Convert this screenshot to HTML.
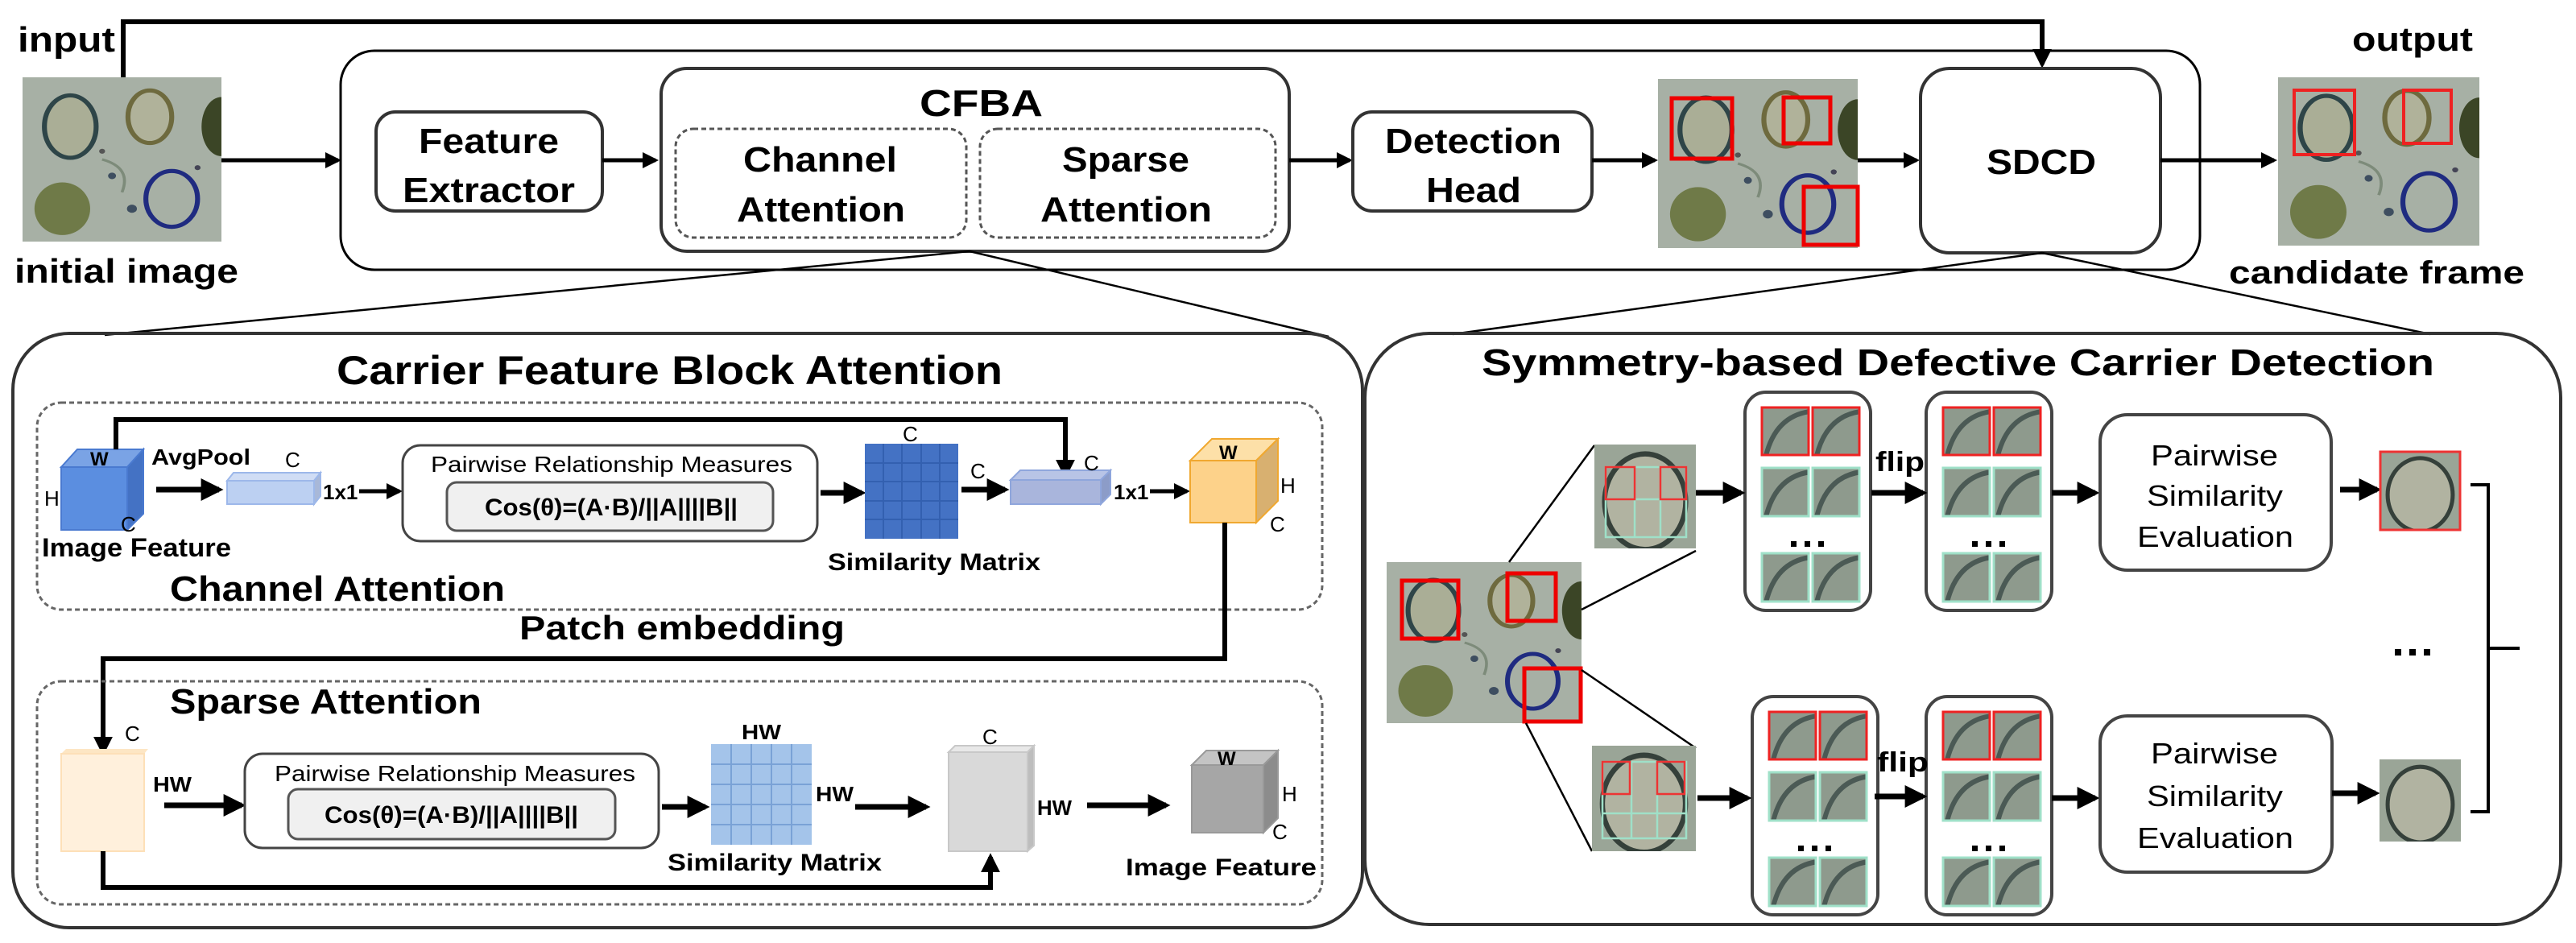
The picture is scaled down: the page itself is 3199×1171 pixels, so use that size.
<!DOCTYPE html>
<html><head><meta charset="utf-8"><style>
html,body{margin:0;padding:0;background:#fff;}
svg{display:block;}
text{font-family:"Liberation Sans",Arial,sans-serif;fill:#000;}
.b{font-weight:bold;}
</style></head><body>
<svg width="3199" height="1171" viewBox="0 0 3199 1171" xmlns="http://www.w3.org/2000/svg">
<defs>
<marker id="ah" markerWidth="4" markerHeight="4" refX="3.2" refY="2" orient="auto" markerUnits="strokeWidth"><path d="M0,0 L4,2 L0,4 z" fill="#000"/></marker>
<marker id="ah2" markerWidth="5" markerHeight="5" refX="4" refY="2.5" orient="auto" markerUnits="strokeWidth"><path d="M0,0 L5,2.5 L0,5 L1,2.5 z" fill="#000"/></marker>
<symbol id="mic" viewBox="0 0 100 100" preserveAspectRatio="none">
<rect width="100" height="100" fill="#9ea99e"/>
<rect width="100" height="100" fill="#b4bbb0" opacity="0.4"/>
<ellipse cx="100" cy="30" rx="10" ry="18" fill="#3b4526"/>
<ellipse cx="24" cy="30" rx="13" ry="19" fill="#aaae96" stroke="#2e4548" stroke-width="2.5"/>
<ellipse cx="64" cy="24" rx="11" ry="16" fill="#b0b29a" stroke="#6e6a3e" stroke-width="2.5"/>
<ellipse cx="20" cy="80" rx="14" ry="16" fill="#6f7a48"/>
<ellipse cx="75" cy="74" rx="13" ry="17" fill="none" stroke="#1f2b80" stroke-width="2.5"/>
<circle cx="45" cy="60" r="2" fill="#3e4e60"/><circle cx="55" cy="80" r="2.5" fill="#3e4e60"/><circle cx="40" cy="45" r="1.5" fill="#555"/><circle cx="88" cy="55" r="1.5" fill="#445"/>
<path d="M40 50 Q55 55 50 70" stroke="#7d8b7a" fill="none" stroke-width="1.5"/>
</symbol>
<symbol id="crop" viewBox="0 0 100 100" preserveAspectRatio="none">
<rect width="100" height="100" fill="#9aa597"/>
<ellipse cx="50" cy="55" rx="40" ry="46" fill="#b1b3a1" stroke="#35403a" stroke-width="5"/>
</symbol>
<symbol id="patch" viewBox="0 0 100 100" preserveAspectRatio="none">
<rect width="100" height="100" fill="#8e9a8d"/>
<path d="M10 100 Q30 20 100 10" stroke="#4b5a55" stroke-width="10" fill="none"/>
</symbol>
</defs>

<!-- top line from input to SDCD -->
<polyline points="153,96 153,27 2536,27 2536,80" fill="none" stroke="#000" stroke-width="6" marker-end="url(#ah)"/>
<text x="22" y="64" class="b" font-size="44" textLength="121" lengthAdjust="spacingAndGlyphs">input</text>
<use href="#mic" x="28" y="96" width="247" height="204"/>
<text x="18" y="351" class="b" font-size="42" textLength="278" lengthAdjust="spacingAndGlyphs">initial image</text>

<!-- big top box -->
<rect x="423" y="63" width="2309" height="272" rx="42" fill="none" stroke="#000" stroke-width="3"/>
<line x1="275" y1="199" x2="420" y2="199" stroke="#000" stroke-width="5" marker-end="url(#ah)"/>
<rect x="467" y="139" width="281" height="123" rx="24" fill="#fff" stroke="#333" stroke-width="4"/>
<text x="520" y="190" class="b" font-size="44" textLength="174" lengthAdjust="spacingAndGlyphs">Feature</text>
<text x="500" y="251" class="b" font-size="44" textLength="214" lengthAdjust="spacingAndGlyphs">Extractor</text>
<line x1="748" y1="199" x2="814" y2="199" stroke="#000" stroke-width="5" marker-end="url(#ah)"/>
<rect x="821" y="85" width="780" height="227" rx="32" fill="#fff" stroke="#333" stroke-width="4"/>
<text x="1142" y="144" class="b" font-size="46" textLength="153" lengthAdjust="spacingAndGlyphs">CFBA</text>
<rect x="839" y="160" width="361" height="135" rx="22" fill="none" stroke="#555" stroke-width="3" stroke-dasharray="6,4"/>
<rect x="1217" y="160" width="367" height="135" rx="22" fill="none" stroke="#555" stroke-width="3" stroke-dasharray="6,4"/>
<text x="923" y="213" class="b" font-size="44" textLength="191" lengthAdjust="spacingAndGlyphs">Channel</text>
<text x="915" y="275" class="b" font-size="44" textLength="209" lengthAdjust="spacingAndGlyphs">Attention</text>
<text x="1319" y="213" class="b" font-size="44" textLength="158" lengthAdjust="spacingAndGlyphs">Sparse</text>
<text x="1292" y="275" class="b" font-size="44" textLength="213" lengthAdjust="spacingAndGlyphs">Attention</text>
<line x1="1601" y1="199" x2="1676" y2="199" stroke="#000" stroke-width="5" marker-end="url(#ah)"/>
<rect x="1680" y="139" width="297" height="123" rx="24" fill="#fff" stroke="#333" stroke-width="4"/>
<text x="1720" y="190" class="b" font-size="44" textLength="219" lengthAdjust="spacingAndGlyphs">Detection</text>
<text x="1771" y="251" class="b" font-size="44" textLength="118" lengthAdjust="spacingAndGlyphs">Head</text>
<line x1="1977" y1="199" x2="2055" y2="199" stroke="#000" stroke-width="5" marker-end="url(#ah)"/>
<use href="#mic" x="2059" y="98" width="248" height="210"/>
<g fill="none" stroke="#e00" stroke-width="5">
<rect x="2076" y="122" width="75" height="75"/><rect x="2215" y="121" width="58" height="57"/><rect x="2240" y="232" width="67" height="72"/>
</g>
<line x1="2307" y1="199" x2="2380" y2="199" stroke="#000" stroke-width="5" marker-end="url(#ah)"/>
<rect x="2385" y="85" width="298" height="229" rx="36" fill="#fff" stroke="#333" stroke-width="4"/>
<text x="2467" y="216" class="b" font-size="44" textLength="136" lengthAdjust="spacingAndGlyphs">SDCD</text>
<line x1="2683" y1="199" x2="2824" y2="199" stroke="#000" stroke-width="5" marker-end="url(#ah)"/>
<text x="2921" y="63" class="b" font-size="42" textLength="150" lengthAdjust="spacingAndGlyphs">output</text>
<use href="#mic" x="2829" y="96" width="250" height="209"/>
<g fill="none" stroke="#e22" stroke-width="4"><rect x="2849" y="112" width="75" height="80"/><rect x="2985" y="112" width="59" height="66"/></g>
<text x="2768" y="352" class="b" font-size="40" textLength="367" lengthAdjust="spacingAndGlyphs">candidate frame</text>

<!-- zoom lines -->
<g stroke="#000" stroke-width="2.5">
<line x1="1204" y1="312" x2="130" y2="416"/><line x1="1204" y1="312" x2="1650" y2="418"/>
<line x1="2536" y1="314" x2="1804" y2="415"/><line x1="2536" y1="314" x2="3018" y2="415"/>
</g>

<!-- CFBA panel -->
<rect x="16" y="414" width="1676" height="738" rx="70" fill="none" stroke="#333" stroke-width="4"/>
<text x="418" y="477" class="b" font-size="50" textLength="827" lengthAdjust="spacingAndGlyphs">Carrier Feature Block Attention</text>
<rect x="46" y="500" width="1596" height="257" rx="30" fill="none" stroke="#666" stroke-width="3" stroke-dasharray="6,4"/>
<!-- blue cube -->
<polygon points="76,580 96,558 178,558 158,580" fill="#7aa3e5" stroke="#4a7ad0" stroke-width="2"/>
<polygon points="158,580 178,558 178,638 158,658" fill="#4472c4" stroke="#4a7ad0" stroke-width="2"/>
<rect x="76" y="580" width="82" height="78" fill="#5b8ee0" stroke="#4a7ad0" stroke-width="2"/>
<text x="112" y="578" class="b" font-size="24">W</text>
<text x="55" y="628" font-size="26">H</text>
<text x="150" y="660" font-size="26">C</text>
<text x="52" y="691" class="b" font-size="32" textLength="235" lengthAdjust="spacingAndGlyphs">Image Feature</text>
<polyline points="144,558 144,521 1323,521 1323,590" fill="none" stroke="#000" stroke-width="6" marker-end="url(#ah)"/>
<text x="188" y="577" class="b" font-size="28" textLength="123" lengthAdjust="spacingAndGlyphs">AvgPool</text>
<line x1="194" y1="608" x2="272" y2="608" stroke="#000" stroke-width="7" marker-end="url(#ah)"/>
<polygon points="282,597 290,587 398,587 390,597" fill="#d0ddf5" stroke="#9db8ea" stroke-width="2"/>
<polygon points="390,597 398,587 398,616 390,626" fill="#a8b8d8" stroke="#9db8ea" stroke-width="2"/>
<rect x="282" y="597" width="108" height="29" fill="#bcd0f2" stroke="#9db8ea" stroke-width="2"/>
<text x="354" y="580" font-size="26">C</text>
<text x="401" y="620" class="b" font-size="26">1x1</text>
<line x1="446" y1="610" x2="496" y2="610" stroke="#000" stroke-width="5" marker-end="url(#ah)"/>
<rect x="500" y="553" width="515" height="119" rx="22" fill="#fff" stroke="#444" stroke-width="3"/>
<text x="535" y="586" font-size="28" textLength="449" lengthAdjust="spacingAndGlyphs">Pairwise Relationship Measures</text>
<rect x="555" y="599" width="405" height="60" rx="12" fill="#f0f0f0" stroke="#555" stroke-width="3"/>
<text x="602" y="640" class="b" font-size="30" textLength="314" lengthAdjust="spacingAndGlyphs">Cos(θ)=(A·B)/||A||||B||</text>
<line x1="1019" y1="612" x2="1070" y2="612" stroke="#000" stroke-width="7" marker-end="url(#ah)"/>
<rect x="1074" y="551" width="116" height="118" fill="#4472c4"/>
<g stroke="#3360b0" stroke-width="2">
<line x1="1097" y1="551" x2="1097" y2="669"/><line x1="1120" y1="551" x2="1120" y2="669"/><line x1="1144" y1="551" x2="1144" y2="669"/><line x1="1167" y1="551" x2="1167" y2="669"/>
<line x1="1074" y1="575" x2="1190" y2="575"/><line x1="1074" y1="598" x2="1190" y2="598"/><line x1="1074" y1="622" x2="1190" y2="622"/><line x1="1074" y1="645" x2="1190" y2="645"/>
</g>
<text x="1121" y="548" font-size="26">C</text>
<text x="1205" y="594" font-size="26">C</text>
<text x="1028" y="708" class="b" font-size="30" textLength="264" lengthAdjust="spacingAndGlyphs">Similarity Matrix</text>
<line x1="1194" y1="608" x2="1248" y2="608" stroke="#000" stroke-width="7" marker-end="url(#ah)"/>
<polygon points="1255,596 1267,584 1379,584 1367,596" fill="#b8c4e6" stroke="#8fa6dc" stroke-width="2"/>
<polygon points="1367,596 1379,584 1379,614 1367,626" fill="#8c9cc8" stroke="#8fa6dc" stroke-width="2"/>
<rect x="1255" y="596" width="112" height="30" fill="#a9b5dc" stroke="#8fa6dc" stroke-width="2"/>
<text x="1346" y="584" font-size="26">C</text>
<text x="1383" y="620" class="b" font-size="26">1x1</text>
<line x1="1428" y1="610" x2="1474" y2="610" stroke="#000" stroke-width="5" marker-end="url(#ah)"/>
<polygon points="1478,572 1505,545 1587,545 1560,572" fill="#fde0a8" stroke="#f0a830" stroke-width="2"/>
<polygon points="1560,572 1587,545 1587,622 1560,649" fill="#d8b070" stroke="#f0a830" stroke-width="2"/>
<rect x="1478" y="572" width="82" height="77" fill="#fdd28a" stroke="#f0a830" stroke-width="2"/>
<text x="1514" y="570" class="b" font-size="24">W</text>
<text x="1590" y="612" font-size="26">H</text>
<text x="1577" y="660" font-size="26">C</text>
<text x="211" y="746" class="b" font-size="44" textLength="416" lengthAdjust="spacingAndGlyphs">Channel Attention</text>
<text x="645" y="794" class="b" font-size="42" textLength="404" lengthAdjust="spacingAndGlyphs">Patch embedding</text>
<polyline points="1521,649 1521,818 128,818 128,934" fill="none" stroke="#000" stroke-width="6" marker-end="url(#ah)"/>

<rect x="46" y="846" width="1596" height="277" rx="30" fill="none" stroke="#666" stroke-width="3" stroke-dasharray="6,4"/>
<text x="211" y="886" class="b" font-size="44" textLength="387" lengthAdjust="spacingAndGlyphs">Sparse Attention</text>
<polygon points="76,936 82,930 184,930 179,936" fill="#fde6c4"/>
<rect x="76" y="936" width="103" height="121" fill="#fff0dc" stroke="#fde0b8" stroke-width="2"/>
<text x="155" y="920" font-size="26">C</text>
<text x="190" y="983" class="b" font-size="26" textLength="48" lengthAdjust="spacingAndGlyphs">HW</text>
<line x1="204" y1="1000" x2="300" y2="1000" stroke="#000" stroke-width="7" marker-end="url(#ah)"/>
<rect x="304" y="936" width="514" height="117" rx="22" fill="#fff" stroke="#444" stroke-width="3"/>
<text x="341" y="970" font-size="28" textLength="448" lengthAdjust="spacingAndGlyphs">Pairwise Relationship Measures</text>
<rect x="358" y="980" width="406" height="62" rx="12" fill="#f0f0f0" stroke="#555" stroke-width="3"/>
<text x="403" y="1022" class="b" font-size="30" textLength="315" lengthAdjust="spacingAndGlyphs">Cos(θ)=(A·B)/||A||||B||</text>
<line x1="822" y1="1002" x2="876" y2="1002" stroke="#000" stroke-width="7" marker-end="url(#ah)"/>
<rect x="883" y="924" width="125" height="125" fill="#a4c4ea"/>
<g stroke="#7aa2d6" stroke-width="2">
<line x1="908" y1="924" x2="908" y2="1049"/><line x1="933" y1="924" x2="933" y2="1049"/><line x1="958" y1="924" x2="958" y2="1049"/><line x1="983" y1="924" x2="983" y2="1049"/>
<line x1="883" y1="949" x2="1008" y2="949"/><line x1="883" y1="974" x2="1008" y2="974"/><line x1="883" y1="999" x2="1008" y2="999"/><line x1="883" y1="1024" x2="1008" y2="1024"/>
</g>
<text x="921" y="918" class="b" font-size="26" textLength="49" lengthAdjust="spacingAndGlyphs">HW</text>
<text x="1013" y="995" class="b" font-size="26" textLength="47" lengthAdjust="spacingAndGlyphs">HW</text>
<text x="829" y="1081" class="b" font-size="30" textLength="266" lengthAdjust="spacingAndGlyphs">Similarity Matrix</text>
<line x1="1062" y1="1002" x2="1150" y2="1002" stroke="#000" stroke-width="7" marker-end="url(#ah)"/>
<polygon points="1178,934 1186,926 1284,926 1276,934" fill="#e8e8e8" stroke="#c8c8c8" stroke-width="2"/>
<polygon points="1276,934 1284,926 1284,1050 1276,1057" fill="#bdbdbd" stroke="#c8c8c8" stroke-width="2"/>
<rect x="1178" y="934" width="98" height="123" fill="#d9d9d9" stroke="#c8c8c8" stroke-width="2"/>
<text x="1220" y="924" font-size="26">C</text>
<text x="1288" y="1012" class="b" font-size="26" textLength="43" lengthAdjust="spacingAndGlyphs">HW</text>
<line x1="1350" y1="1000" x2="1448" y2="1000" stroke="#000" stroke-width="7" marker-end="url(#ah)"/>
<polygon points="1480,950 1498,932 1587,932 1569,950" fill="#c4c4c4" stroke="#999" stroke-width="2"/>
<polygon points="1569,950 1587,932 1587,1016 1569,1034" fill="#8c8c8c" stroke="#999" stroke-width="2"/>
<rect x="1480" y="950" width="89" height="84" fill="#a6a6a6" stroke="#999" stroke-width="2"/>
<text x="1512" y="950" class="b" font-size="24">W</text>
<text x="1592" y="995" font-size="26">H</text>
<text x="1580" y="1042" font-size="26">C</text>
<text x="1398" y="1087" class="b" font-size="30" textLength="237" lengthAdjust="spacingAndGlyphs">Image Feature</text>
<polyline points="128,1057 128,1102 1230,1102 1230,1064" fill="none" stroke="#000" stroke-width="6" marker-end="url(#ah)"/>

<!-- SDCD panel -->
<rect x="1695" y="414" width="1485" height="734" rx="80" fill="none" stroke="#333" stroke-width="4"/>
<text x="1840" y="466" class="b" font-size="46" textLength="1183" lengthAdjust="spacingAndGlyphs">Symmetry-based Defective Carrier Detection</text>
<use href="#mic" x="1722" y="698" width="242" height="200"/>
<g fill="none" stroke="#e00" stroke-width="5"><rect x="1741" y="721" width="70" height="72"/><rect x="1872" y="712" width="60" height="59"/><rect x="1893" y="830" width="70" height="66"/></g>
<g stroke="#000" stroke-width="2.5">
<line x1="1874" y1="698" x2="1980" y2="553"/><line x1="1964" y1="757" x2="2106" y2="684"/>
<line x1="1964" y1="832" x2="2106" y2="929"/><line x1="1895" y1="898" x2="1977" y2="1057"/>
</g>
<use href="#crop" x="1980" y="552" width="126" height="129"/>
<g fill="none" stroke="#9fe0c8" stroke-width="2.5"><rect x="1994" y="580" width="100" height="87"/><line x1="2030" y1="580" x2="2030" y2="667"/><line x1="2062" y1="580" x2="2062" y2="667"/><line x1="1994" y1="620" x2="2094" y2="620"/></g>
<g fill="none" stroke="#e33" stroke-width="2.5"><rect x="1994" y="580" width="36" height="40"/><rect x="2062" y="580" width="32" height="40"/></g>
<use href="#crop" x="1977" y="926" width="129" height="131"/>
<g fill="none" stroke="#9fe0c8" stroke-width="2.5"><rect x="1990" y="946" width="104" height="95"/><line x1="2026" y1="946" x2="2026" y2="1041"/><line x1="2058" y1="946" x2="2058" y2="1041"/><line x1="1990" y1="1010" x2="2094" y2="1010"/></g>
<g fill="none" stroke="#e33" stroke-width="2.5"><rect x="1990" y="946" width="34" height="40"/><rect x="2058" y="946" width="34" height="40"/></g>

<g id="grp">
<rect x="2167" y="487" width="156" height="271" rx="26" fill="#fff" stroke="#444" stroke-width="4"/>
<use href="#patch" x="2187" y="505" width="60" height="61"/><use href="#patch" x="2250" y="505" width="60" height="61"/>
<rect x="2188" y="506" width="58" height="59" fill="none" stroke="#e22" stroke-width="3"/><rect x="2251" y="506" width="58" height="59" fill="none" stroke="#e22" stroke-width="3"/>
<use href="#patch" x="2187" y="580" width="60" height="62"/><use href="#patch" x="2250" y="580" width="60" height="62"/>
<rect x="2188" y="581" width="58" height="60" fill="none" stroke="#9fe0c8" stroke-width="3"/><rect x="2251" y="581" width="58" height="60" fill="none" stroke="#9fe0c8" stroke-width="3"/>
<rect x="2224" y="672" width="7" height="7"/><rect x="2241" y="672" width="7" height="7"/><rect x="2258" y="672" width="7" height="7"/>
<use href="#patch" x="2187" y="686" width="60" height="62"/><use href="#patch" x="2250" y="686" width="60" height="62"/>
<rect x="2188" y="687" width="58" height="60" fill="none" stroke="#9fe0c8" stroke-width="3"/><rect x="2251" y="687" width="58" height="60" fill="none" stroke="#9fe0c8" stroke-width="3"/>
</g>
<use href="#grp" x="225" y="0"/>
<use href="#grp" x="9" y="378"/>
<use href="#grp" x="225" y="378"/>
<line x1="2106" y1="612" x2="2162" y2="612" stroke="#000" stroke-width="7" marker-end="url(#ah)"/>
<line x1="2324" y1="612" x2="2388" y2="612" stroke="#000" stroke-width="7" marker-end="url(#ah)"/>
<line x1="2548" y1="612" x2="2602" y2="612" stroke="#000" stroke-width="7" marker-end="url(#ah)"/>
<line x1="2108" y1="991" x2="2170" y2="991" stroke="#000" stroke-width="7" marker-end="url(#ah)"/>
<line x1="2328" y1="989" x2="2388" y2="989" stroke="#000" stroke-width="7" marker-end="url(#ah)"/>
<line x1="2548" y1="991" x2="2602" y2="991" stroke="#000" stroke-width="7" marker-end="url(#ah)"/>
<text x="2329" y="585" class="b" font-size="34" textLength="61" lengthAdjust="spacingAndGlyphs">flip</text>
<text x="2331" y="958" class="b" font-size="34" textLength="64" lengthAdjust="spacingAndGlyphs">flip</text>
<rect x="2608" y="515" width="287" height="193" rx="34" fill="#fff" stroke="#444" stroke-width="4"/>
<text x="2671" y="578" font-size="36" textLength="158" lengthAdjust="spacingAndGlyphs">Pairwise</text>
<text x="2666" y="628" font-size="36" textLength="169" lengthAdjust="spacingAndGlyphs">Similarity</text>
<text x="2654" y="679" font-size="36" textLength="194" lengthAdjust="spacingAndGlyphs">Evaluation</text>
<rect x="2608" y="889" width="288" height="194" rx="34" fill="#fff" stroke="#444" stroke-width="4"/>
<text x="2671" y="948" font-size="36" textLength="158" lengthAdjust="spacingAndGlyphs">Pairwise</text>
<text x="2666" y="1001" font-size="36" textLength="169" lengthAdjust="spacingAndGlyphs">Similarity</text>
<text x="2654" y="1053" font-size="36" textLength="194" lengthAdjust="spacingAndGlyphs">Evaluation</text>
<line x1="2906" y1="608" x2="2952" y2="608" stroke="#000" stroke-width="7" marker-end="url(#ah)"/>
<line x1="2896" y1="985" x2="2950" y2="985" stroke="#000" stroke-width="7" marker-end="url(#ah)"/>
<use href="#crop" x="2955" y="560" width="101" height="99"/>
<rect x="2956" y="561" width="99" height="97" fill="none" stroke="#e33" stroke-width="3"/>
<use href="#crop" x="2955" y="943" width="101" height="102"/>
<rect x="2974" y="806" width="8" height="8"/><rect x="2992" y="806" width="8" height="8"/><rect x="3010" y="806" width="8" height="8"/>
<polyline points="3068,602 3090,602 3090,1008 3068,1008" fill="none" stroke="#000" stroke-width="4"/>
<line x1="3090" y1="805" x2="3129" y2="805" stroke="#000" stroke-width="4"/>
</svg>
</body></html>
